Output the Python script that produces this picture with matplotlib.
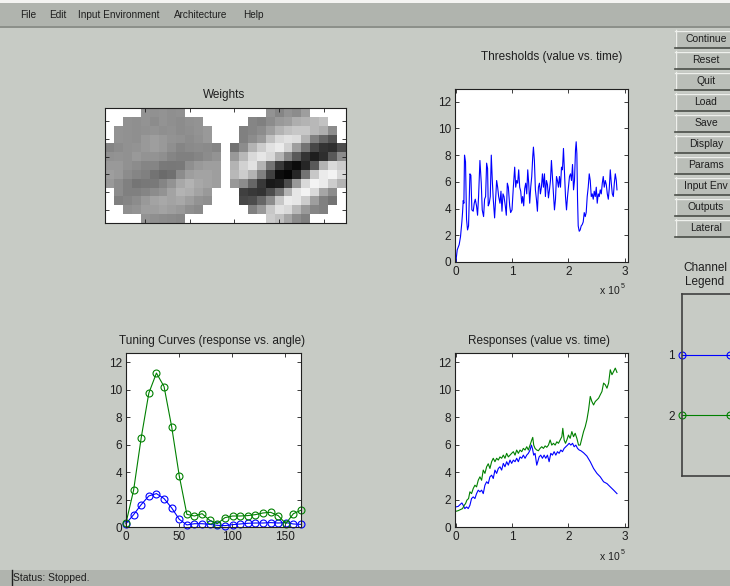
import numpy as np
import matplotlib
matplotlib.use('Agg')
import matplotlib.pyplot as plt
from matplotlib.patches import Rectangle

plt.rcParams['font.family'] = ['Liberation Sans', 'DejaVu Sans']

W, H = 730, 586
BG = '#c7cbc5'
BAR = '#b0b4ae'
BTN = '#babeb8'
TXT = '#1e1e1e'

# ---- data ----
menu_items = ['File', 'Edit', 'Input Environment', 'Architecture', 'Help']
buttons = ['Continue', 'Reset', 'Quit', 'Load', 'Save', 'Display', 'Params',
           'Input Env', 'Outputs', 'Lateral']
channels = [1, 2]
channel_colors = ['#0000ff', '#008000']

# weights (gray level 0 = black, 1 = white), one list per image row, disk only
w_left = [
    [0.58, 0.57, 0.58, 0.56, 0.57],
    [0.57, 0.56, 0.58, 0.55, 0.58, 0.56, 0.55, 0.57, 0.58],
    [0.58, 0.57, 0.56, 0.57, 0.58, 0.56, 0.57, 0.55, 0.56, 0.58, 0.60],
    [0.58, 0.57, 0.56, 0.60, 0.62, 0.60, 0.58, 0.57, 0.55, 0.57, 0.60],
    [0.52, 0.55, 0.57, 0.58, 0.60, 0.62, 0.60, 0.56, 0.52, 0.54, 0.55, 0.54, 0.52],
    [0.57, 0.58, 0.57, 0.60, 0.58, 0.58, 0.56, 0.52, 0.50, 0.50, 0.52, 0.55, 0.58],
    [0.60, 0.60, 0.57, 0.55, 0.52, 0.52, 0.48, 0.47, 0.48, 0.56, 0.60, 0.62, 0.62],
    [0.62, 0.60, 0.55, 0.52, 0.50, 0.45, 0.42, 0.44, 0.55, 0.62, 0.64, 0.64, 0.62],
    [0.60, 0.55, 0.50, 0.46, 0.47, 0.48, 0.52, 0.58, 0.66, 0.70, 0.66, 0.64, 0.62],
    [0.55, 0.50, 0.50, 0.52, 0.55, 0.58, 0.64, 0.70, 0.68, 0.64, 0.60],
    [0.50, 0.52, 0.55, 0.60, 0.64, 0.66, 0.64, 0.66, 0.62, 0.58, 0.56],
    [0.56, 0.58, 0.62, 0.62, 0.64, 0.62, 0.60, 0.56, 0.54],
    [0.58, 0.56, 0.55, 0.54, 0.53],
]
w_right = [
    [0.58, 0.52, 0.58, 0.55, 0.62],
    [0.52, 0.50, 0.55, 0.60, 0.62, 0.68, 0.70, 0.72, 0.76],
    [0.50, 0.52, 0.55, 0.62, 0.70, 0.75, 0.78, 0.78, 0.72, 0.68, 0.55],
    [0.50, 0.55, 0.60, 0.75, 0.85, 0.88, 0.86, 0.70, 0.50, 0.40, 0.32],
    [0.45, 0.55, 0.70, 0.80, 0.88, 0.92, 0.82, 0.62, 0.45, 0.28, 0.20, 0.18, 0.30],
    [0.60, 0.72, 0.85, 0.90, 0.85, 0.70, 0.52, 0.35, 0.20, 0.12, 0.18, 0.35, 0.55],
    [0.70, 0.82, 0.88, 0.70, 0.45, 0.22, 0.10, 0.05, 0.15, 0.35, 0.70, 0.85, 0.80],
    [0.72, 0.80, 0.70, 0.50, 0.25, 0.05, 0.02, 0.15, 0.45, 0.78, 0.92, 0.95, 0.85],
    [0.60, 0.55, 0.40, 0.22, 0.10, 0.12, 0.30, 0.60, 0.85, 0.95, 0.92, 0.80, 0.70],
    [0.25, 0.22, 0.20, 0.30, 0.45, 0.70, 0.90, 0.95, 0.85, 0.65, 0.55],
    [0.28, 0.30, 0.40, 0.55, 0.78, 0.92, 0.90, 0.80, 0.62, 0.50, 0.45],
    [0.50, 0.60, 0.78, 0.88, 0.85, 0.72, 0.60, 0.52, 0.50],
    [0.80, 0.75, 0.65, 0.55, 0.50],
]

# thresholds: time in thousands of steps
thr_t = [0, 2.4, 5.9, 8.3, 10.7, 11.9, 13.1, 14.3, 15.4, 17.2,
         19.0, 20.8, 22.6, 25.0, 26.7, 28.5, 30.9, 32.7, 34.5, 36.8,
         38.6, 40.4, 42.8, 45.2, 46.9, 49.3, 51.1, 52.9, 54.7, 56.4,
         57.6, 59.4, 61.2, 63.0, 64.8, 66.5, 68.9, 70.7, 72.5, 74.3,
         76.1, 78.4, 80.2, 82.0, 83.8, 85.6, 87.9, 89.7, 91.5, 93.3,
         95.7, 97.4, 99.8, 102.2, 104.6, 106.4, 108.1, 109.9, 111.7, 113.5,
         115.3, 117.1, 118.8, 120.6, 122.4, 124.2, 126.0, 127.8, 129.5, 131.3,
         133.1, 134.9, 136.7, 137.9, 139.6, 141.4, 143.2, 145.0, 146.8, 148.6,
         150.3, 152.1, 153.9, 155.7, 157.5, 159.2, 161.0, 162.8, 164.6, 166.4,
         168.2, 169.9, 171.7, 173.5, 175.3, 177.1, 178.9, 180.6, 182.4, 184.2,
         186.0, 187.8, 189.5, 191.3, 193.1, 194.9, 196.7, 198.5, 200.2, 202.0,
         203.8, 205.6, 207.4, 209.2, 210.9, 212.7, 213.9, 215.1, 216.3, 217.5,
         219.3, 221.0, 222.8, 224.6, 226.4, 228.2, 230.0, 231.7, 233.5, 235.3,
         237.1, 238.9, 240.7, 242.4, 244.2, 246.0, 247.8, 249.6, 251.3, 253.1,
         254.9, 256.7, 258.5, 260.3, 262.0, 263.8, 265.6, 267.4, 269.2, 271.0,
         272.7, 274.5, 276.3, 278.1, 279.9, 281.7, 283.4, 285.2, 286.4]
thr_v = [0.0, 0.9, 1.3, 1.9, 3.0, 3.7, 4.6, 4.4, 8.0, 7.5,
         3.2, 2.4, 2.7, 6.6, 6.5, 3.9, 3.8, 4.4, 4.7, 4.2,
         3.5, 4.9, 7.6, 5.9, 3.9, 3.4, 4.7, 4.9, 7.4, 7.0,
         4.2, 4.4, 4.9, 8.0, 6.1, 4.7, 3.3, 4.7, 6.1, 5.6,
         4.9, 4.4, 5.3, 3.8, 5.1, 4.9, 4.2, 3.5, 5.9, 5.6,
         4.2, 3.7, 3.9, 5.6, 7.1, 5.6, 6.1, 5.9, 6.9, 5.6,
         5.3, 4.4, 4.9, 4.2, 5.5, 5.9, 5.1, 6.9, 5.9, 4.4,
         5.6, 6.4, 7.9, 8.6, 7.6, 5.4, 4.7, 3.8, 5.6, 5.9,
         5.1, 5.6, 6.6, 5.6, 6.6, 4.9, 6.1, 5.8, 4.8, 5.4,
         6.1, 7.6, 6.3, 5.1, 3.9, 4.7, 6.4, 6.1, 5.6, 6.4,
         5.6, 7.1, 6.9, 8.5, 6.6, 4.9, 3.9, 4.9, 5.6, 6.4,
         6.6, 6.1, 7.3, 5.4, 6.1, 8.4, 9.0, 8.1, 4.7, 2.7,
         2.3, 2.4, 2.7, 2.8, 3.0, 3.7, 3.4, 3.7, 4.9, 5.6,
         6.6, 6.1, 4.9, 5.1, 4.7, 5.3, 4.9, 5.6, 4.4, 5.1,
         4.9, 5.4, 5.1, 5.9, 6.4, 5.6, 6.1, 5.8, 5.1, 4.7,
         5.5, 6.9, 5.9, 5.1, 4.9, 5.9, 6.6, 6.1, 5.4]

# tuning curves
angles = [0, 7.2, 14.4, 21.6, 28.8, 36.0, 43.2, 50.4, 57.6, 64.8, 72.0, 79.2,
          86.4, 93.6, 100.8, 108.0, 115.2, 122.4, 129.6, 136.8, 144.0, 151.2,
          158.4, 165.6]
tune_1 = [0.24, 0.90, 1.63, 2.26, 2.43, 2.07, 1.39, 0.56, 0.15, 0.24, 0.24, 0.19,
          0.12, 0.10, 0.17, 0.22, 0.27, 0.29, 0.29, 0.32, 0.29, 0.32, 0.22, 0.19]
tune_2 = [0.29, 2.68, 6.50, 9.74, 11.20, 10.22, 7.30, 3.72, 0.92, 0.80, 0.97, 0.49,
          0.24, 0.68, 0.80, 0.80, 0.83, 0.90, 1.02, 1.07, 0.83, 0.24, 0.97, 1.22]

# responses: time in thousands of steps
resp1_t = [0, 4.2, 8.3, 10.7, 13.1, 16.0, 19.0, 22.0, 25.0, 27.9,
           30.9, 33.9, 36.8, 39.8, 42.8, 45.8, 48.7, 51.7, 54.7, 57.6,
           60.6, 63.6, 66.5, 69.5, 72.5, 75.5, 78.4, 81.4, 84.4, 87.3,
           90.3, 93.3, 96.3, 99.2, 102.2, 105.2, 108.1, 111.1, 114.1, 117.1,
           120.0, 123.0, 126.0, 128.9, 131.9, 134.3, 136.1, 138.4, 140.8, 143.8,
           145.6, 148.0, 150.9, 153.9, 156.9, 159.8, 162.8, 165.8, 168.8, 171.7,
           174.7, 177.7, 180.6, 183.6, 186.6, 189.5, 192.5, 195.5, 198.5, 201.4,
           204.4, 207.4, 210.3, 213.3, 216.3, 219.3, 222.2, 227.0, 232.9, 238.9,
           244.8, 250.8, 256.7, 262.6, 268.6, 274.5, 280.5, 286.4]
resp1_v = [1.46, 1.50, 1.66, 1.75, 1.58, 1.34, 1.46, 1.34, 1.58, 2.07,
           2.19, 2.07, 2.43, 2.68, 2.56, 2.68, 2.43, 3.04, 3.29, 3.16,
           3.65, 3.77, 3.53, 4.14, 3.90, 4.26, 4.38, 4.14, 4.63, 4.38,
           4.75, 4.50, 4.87, 4.63, 4.87, 4.75, 5.00, 4.75, 5.10, 5.00,
           5.23, 5.00, 5.23, 5.36, 5.60, 5.96, 5.72, 5.23, 5.36, 4.50,
           4.75, 5.10, 5.23, 5.00, 5.23, 5.00, 5.23, 4.75, 5.36, 5.23,
           5.48, 5.23, 5.48, 5.36, 5.60, 5.48, 5.72, 5.84, 5.96, 6.09,
           5.96, 6.09, 5.84, 5.96, 5.72, 5.60, 5.55, 5.40, 5.16, 4.75,
           4.26, 3.90, 3.65, 3.29, 3.16, 2.92, 2.68, 2.43]
resp2_t = [0, 4.2, 8.3, 11.9, 14.9, 17.2, 19.6, 22.6, 25.0, 27.9,
           30.9, 33.9, 36.8, 39.8, 42.8, 45.8, 48.7, 51.7, 54.7, 57.6,
           60.6, 63.6, 66.5, 69.5, 72.5, 75.5, 78.4, 81.4, 84.4, 87.3,
           90.3, 93.3, 96.3, 99.2, 102.2, 105.2, 108.1, 111.1, 114.1, 117.1,
           120.0, 123.0, 126.0, 128.9, 131.9, 134.9, 136.7, 138.4, 140.8, 143.8,
           146.8, 149.7, 152.7, 155.7, 158.7, 161.6, 164.6, 167.6, 170.5, 173.5,
           176.5, 179.5, 182.4, 185.4, 188.4, 190.1, 192.5, 194.9, 197.3, 200.2,
           203.2, 206.2, 209.2, 212.1, 215.1, 218.1, 221.0, 224.0, 227.0, 230.0,
           232.9, 235.9, 238.9, 241.8, 244.8, 247.8, 250.8, 253.7, 256.7, 259.7,
           262.6, 265.6, 268.6, 271.5, 274.5, 277.5, 280.5, 283.4, 286.4]
resp2_v = [1.14, 1.19, 1.27, 1.34, 1.58, 1.70, 1.95, 2.07, 2.56, 2.43,
           2.80, 3.04, 2.92, 3.40, 3.65, 3.40, 4.14, 3.90, 4.38, 4.60,
           4.26, 4.75, 5.00, 4.75, 5.00, 4.87, 5.10, 5.00, 5.23, 5.00,
           5.36, 5.10, 5.23, 5.36, 5.48, 5.23, 5.60, 5.36, 5.60, 5.48,
           5.72, 5.60, 5.84, 5.60, 5.96, 6.33, 6.52, 5.96, 5.72, 5.60,
           5.55, 5.72, 5.84, 5.72, 5.90, 5.80, 5.96, 6.33, 5.96, 6.09,
           5.96, 6.20, 6.09, 6.33, 6.57, 7.18, 6.33, 6.09, 6.33, 6.69,
           6.45, 6.94, 6.57, 6.82, 6.45, 5.96, 5.96, 6.45, 6.94, 7.30,
           7.79, 8.52, 9.50, 9.13, 8.88, 9.13, 9.25, 9.37, 9.62, 9.86,
           10.47, 10.35, 10.10, 10.47, 11.44, 11.08, 11.32, 11.56, 11.25]


def px_rect(l, t, r, b):
    return [l / W, 1 - b / H, (r - l) / W, (b - t) / H]


def style(ax):
    ax.set_facecolor('white')
    for s in ax.spines.values():
        s.set_color('#202020')
        s.set_linewidth(0.8)
    ax.tick_params(direction='in', top=True, right=True, length=3, width=0.6,
                   labelsize=8.5, colors=TXT, pad=3)


fig = plt.figure(figsize=(W / 100, H / 100), dpi=100, facecolor=BG)

# window chrome drawn in pixel coordinates
bg = fig.add_axes([0, 0, 1, 1])
bg.set_xlim(0, W)
bg.set_ylim(H, 0)
bg.axis('off')
bg.add_patch(Rectangle((0, 0), W, 3, color='#f4f4f2', lw=0))
bg.add_patch(Rectangle((0, 3), W, 23, color=BAR, lw=0))
bg.add_patch(Rectangle((0, 26), W, 1.5, color='#8c908a', lw=0))
for x, lab in zip([20, 49, 78, 174, 243], menu_items):
    bg.text(x, 15, lab, fontsize=7.2, color=TXT, va='center', ha='left')

bg.add_patch(Rectangle((0, 570), W, 16, color=BAR, lw=0))
bg.plot([11.5, 11.5], [570, 586], color='#202020', lw=1)
bg.text(13, 578, 'Status: Stopped.', fontsize=7.5, color=TXT, va='center', ha='left')

for i, lab in enumerate(buttons):
    y0 = 30 + 21 * i
    bg.add_patch(Rectangle((675, y0), 62, 18, color=BTN, lw=0))
    bg.plot([675, 737], [y0 + 0.5, y0 + 0.5], color='#eef0ec', lw=1)
    bg.plot([675.5, 675.5], [y0, y0 + 18], color='#eef0ec', lw=1)
    bg.plot([675, 737], [y0 + 18, y0 + 18], color='#4a4e48', lw=1.2)
    bg.text(706, y0 + 9, lab, fontsize=7.5, color=TXT, ha='center', va='center')

bg.text(705, 268, 'Channel', fontsize=8.5, color=TXT, ha='center', va='center')
bg.text(705, 282, 'Legend', fontsize=8.5, color=TXT, ha='center', va='center')

# titles
bg.text(224, 95, 'Weights', fontsize=8.5, color=TXT, ha='center', va='center')
bg.text(552, 57, 'Thresholds (value vs. time)', fontsize=8.5, color=TXT, ha='center', va='center')
bg.text(212, 341, 'Tuning Curves (response vs. angle)', fontsize=8.5, color=TXT, ha='center', va='center')
bg.text(539, 341, 'Responses (value vs. time)', fontsize=8.5, color=TXT, ha='center', va='center')
for yy in [291, 557]:
    bg.text(600, yy, 'x 10', fontsize=7.5, color=TXT, ha='left', va='center')
    bg.text(620.5, yy - 5, '5', fontsize=5, color=TXT, ha='left', va='center')

# weights image
img = np.full((13, 27), np.nan)
for off, disk in [(0, w_left), (14, w_right)]:
    for r, row in enumerate(disk):
        s = off + (13 - len(row)) // 2
        img[r, s:s + len(row)] = row
cmap = plt.get_cmap('gray').copy()
cmap.set_bad('white')
ax_w = fig.add_axes(px_rect(105, 108, 346, 223))
ax_w.imshow(img, cmap=cmap, vmin=0, vmax=1, extent=(0.5, 27.5, 13.5, 0.5),
            aspect='auto', interpolation='nearest')
style(ax_w)
ax_w.set_xticks([5, 10, 15, 20, 25])
ax_w.set_yticks([2, 4, 6, 8, 10, 12])
ax_w.set_xticklabels([])
ax_w.set_yticklabels([])

# thresholds
ax_t = fig.add_axes(px_rect(455, 89, 628, 262))
style(ax_t)
ax_t.plot(np.array(thr_t) / 100, thr_v, color='#0000ff', lw=0.8)
ax_t.set_xlim(-0.015, 3.06)
ax_t.set_ylim(0, 12.95)
ax_t.set_xticks([0, 1, 2, 3])
ax_t.set_yticks(range(0, 13, 2))

# tuning curves
ax_c = fig.add_axes(px_rect(126, 353, 301, 527))
style(ax_c)
for vals, col in zip([tune_1, tune_2], channel_colors):
    ax_c.plot(angles, vals, color=col, lw=0.8, marker='o', ms=5,
              mfc='none', mec=col, mew=0.8, clip_on=False)
ax_c.set_xlim(0, 165.6)
ax_c.set_ylim(0, 12.66)
ax_c.set_xticks([0, 50, 100, 150])
ax_c.set_yticks(range(0, 13, 2))

# responses
ax_r = fig.add_axes(px_rect(455, 353, 628, 527))
style(ax_r)
ax_r.plot(np.array(resp1_t) / 100, resp1_v, color=channel_colors[0], lw=0.8)
ax_r.plot(np.array(resp2_t) / 100, resp2_v, color=channel_colors[1], lw=0.8)
ax_r.set_xlim(-0.015, 3.06)
ax_r.set_ylim(0, 12.66)
ax_r.set_xticks([0, 1, 2, 3])
ax_r.set_yticks(range(0, 13, 2))

# channel legend
ax_l = fig.add_axes(px_rect(682, 294, 778, 476))
ax_l.set_facecolor('none')
for s in ax_l.spines.values():
    s.set_color('#404040')
    s.set_linewidth(1.2)
for ch, col in zip(channels, channel_colors):
    ax_l.plot([0, 1, 2], [ch, ch, ch], color=col, lw=0.8, marker='o', ms=5,
              mfc='none', mec=col, mew=0.8, clip_on=False)
ax_l.set_xlim(0, 2)
ax_l.set_ylim(3, 0)
ax_l.set_xticks([])
ax_l.set_yticks(channels)
ax_l.tick_params(length=0, pad=5, labelsize=8.5, colors=TXT)

fig.savefig('out.png', dpi=100, facecolor=BG)
